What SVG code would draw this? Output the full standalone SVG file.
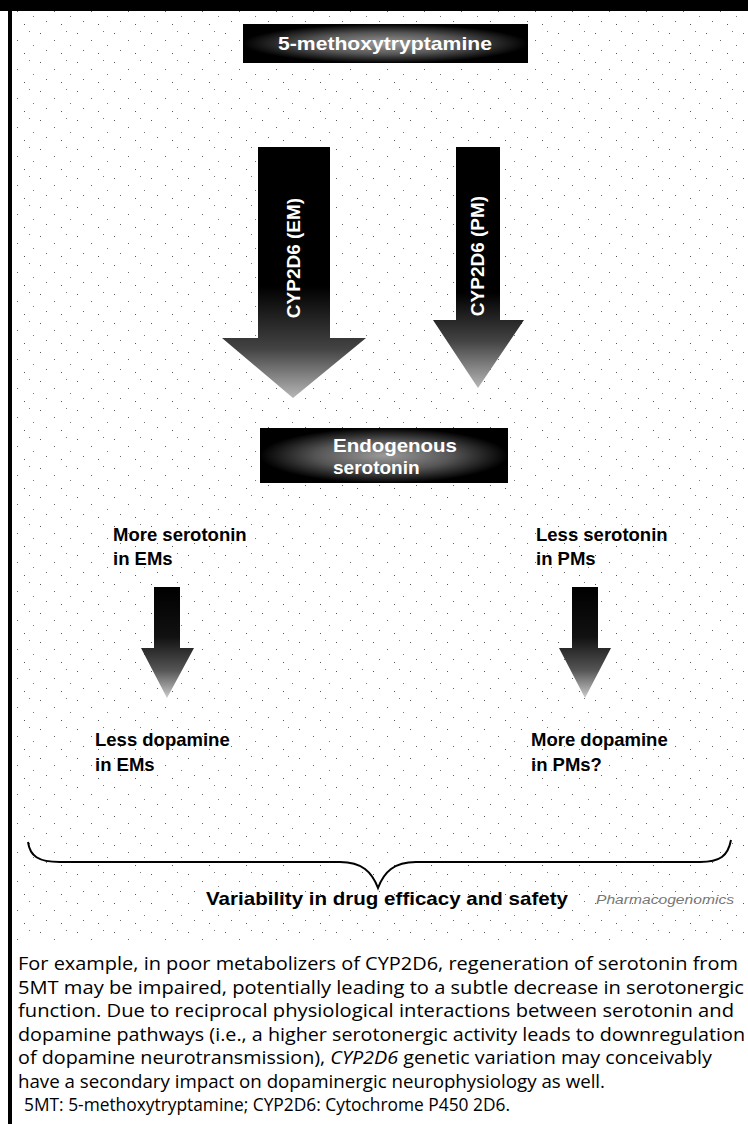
<svg xmlns="http://www.w3.org/2000/svg" width="748" height="1124" viewBox="0 0 748 1124">
<defs>
<radialGradient id="boxGlow" cx="0.5" cy="0.5" r="0.5">
<stop offset="0" stop-color="#9a9a9a"/>
<stop offset="0.55" stop-color="#555"/>
<stop offset="1" stop-color="#000"/>
</radialGradient>
<linearGradient id="bigL" x1="0" y1="147" x2="0" y2="400" gradientUnits="userSpaceOnUse">
<stop offset="0" stop-color="#000"/>
<stop offset="0.55" stop-color="#000"/>
<stop offset="0.8" stop-color="#444"/>
<stop offset="1" stop-color="#bbb"/>
</linearGradient>
<linearGradient id="bigR" x1="0" y1="147" x2="0" y2="390" gradientUnits="userSpaceOnUse">
<stop offset="0" stop-color="#000"/>
<stop offset="0.6" stop-color="#000"/>
<stop offset="0.8" stop-color="#444"/>
<stop offset="1" stop-color="#bbb"/>
</linearGradient>
<linearGradient id="small" x1="0" y1="0" x2="0" y2="1">
<stop offset="0" stop-color="#000"/>
<stop offset="0.45" stop-color="#111"/>
<stop offset="0.75" stop-color="#555"/>
<stop offset="1" stop-color="#ccc"/>
</linearGradient>
<pattern id="noise" width="37" height="29" patternUnits="userSpaceOnUse">
<rect x="3" y="4" width="1" height="1" fill="#555"/>
<rect x="17" y="11" width="1" height="1" fill="#666"/>
<rect x="29" y="2" width="1" height="1" fill="#777"/>
<rect x="9" y="21" width="1" height="1" fill="#666"/>
<rect x="24" y="24" width="1" height="1" fill="#555"/>
<rect x="33" y="16" width="1" height="1" fill="#777"/>
</pattern>
</defs>
<style>
.lbl{font-family:"Liberation Sans",Arial,sans-serif;font-weight:bold;font-size:18.5px;fill:#000}
.wlbl{font-family:"Liberation Sans",Arial,sans-serif;font-weight:bold;font-size:19px;fill:#fff}
.para{font-family:"Open Sans","Liberation Sans",sans-serif;font-size:18.5px;fill:#000}
</style>
<rect x="0" y="0" width="748" height="1124" fill="#fff"/>
<rect x="12" y="10" width="736" height="930" fill="url(#noise)"/>
<rect x="0" y="0" width="748" height="11" fill="#000"/>
<rect x="8" y="0" width="4" height="1124" fill="#000"/>

<g id="node-5mt">
<rect x="243" y="24" width="285" height="39" fill="url(#boxGlow)"/>
<text class="wlbl" x="385" y="50" text-anchor="middle" textLength="214" lengthAdjust="spacingAndGlyphs">5-methoxytryptamine</text>
</g>

<g id="connectors">
<g id="arrow-em">
<path d="M258,147 H330 V338 H366 L293,398 L222,338 H258 Z" fill="url(#bigL)"/>
<text class="wlbl" transform="translate(300,258) rotate(-90)" text-anchor="middle" font-size="17">CYP2D6 (EM)</text>
</g>
<g id="arrow-pm">
<path d="M456,147 H500 V320 H524 L478,388 L433,320 H456 Z" fill="url(#bigR)"/>
<text class="wlbl" transform="translate(484,256) rotate(-90)" text-anchor="middle" font-size="17">CYP2D6 (PM)</text>
</g>
<path d="M154,587 H180 V648 H194 L167,698 L141,648 H154 Z" fill="url(#small)"/>
<path d="M572,587 H598 V648 H611 L585,698 L559,648 H572 Z" fill="url(#small)"/>
<path d="M28,842 C30,856 38,862 60,862 H340 C362,862 372,872 378,888 C384,872 394,862 416,862 H700 C720,862 728,856 731,840" fill="none" stroke="#000" stroke-width="2"/>
</g>

<g id="node-serotonin">
<rect x="260" y="428" width="248" height="55" fill="url(#boxGlow)"/>
<text class="wlbl" x="333" y="452" textLength="124" lengthAdjust="spacingAndGlyphs">Endogenous</text>
<text class="wlbl" x="333" y="474">serotonin</text>
</g>

<g id="node-more-ser">
<text class="lbl" x="113" y="541">More serotonin</text>
<text class="lbl" x="113" y="565">in EMs</text>
</g>
<g id="node-less-ser">
<text class="lbl" x="536" y="541">Less serotonin</text>
<text class="lbl" x="536" y="565">in PMs</text>
</g>
<g id="node-less-dop">
<text class="lbl" x="95" y="746">Less dopamine</text>
<text class="lbl" x="95" y="771">in EMs</text>
</g>
<g id="node-more-dop">
<text class="lbl" x="531" y="746">More dopamine</text>
<text class="lbl" x="531" y="771">in PMs?</text>
</g>

<g id="node-variability">
<text class="lbl" x="206" y="905" textLength="362" lengthAdjust="spacingAndGlyphs">Variability in drug efficacy and safety</text>
<text x="596" y="904" font-family="'Liberation Sans',Arial,sans-serif" font-style="italic" font-size="12.5" fill="#777" textLength="138" lengthAdjust="spacingAndGlyphs">Pharmacogenomics</text>
</g>

<g id="caption">
<text class="para" x="18" y="970" textLength="720" lengthAdjust="spacingAndGlyphs">For example, in poor metabolizers of CYP2D6, regeneration of serotonin from</text>
<text class="para" x="18" y="993.5" textLength="726" lengthAdjust="spacingAndGlyphs">5MT may be impaired, potentially leading to a subtle decrease in serotonergic</text>
<text class="para" x="18" y="1017" textLength="716" lengthAdjust="spacingAndGlyphs">function. Due to reciprocal physiological interactions between serotonin and</text>
<text class="para" x="18" y="1040.5" textLength="727" lengthAdjust="spacingAndGlyphs">dopamine pathways (i.e., a higher serotonergic activity leads to downregulation</text>
<text class="para" x="18" y="1064" textLength="694" lengthAdjust="spacingAndGlyphs">of dopamine neurotransmission), <tspan font-style="italic">CYP2D6</tspan> genetic variation may conceivably</text>
<text class="para" x="18" y="1087.5" textLength="587" lengthAdjust="spacingAndGlyphs">have a secondary impact on dopaminergic neurophysiology as well.</text>
<text class="para" x="24" y="1111" textLength="486" lengthAdjust="spacingAndGlyphs">5MT: 5-methoxytryptamine; CYP2D6: Cytochrome P450 2D6.</text>
</g>
</svg>
